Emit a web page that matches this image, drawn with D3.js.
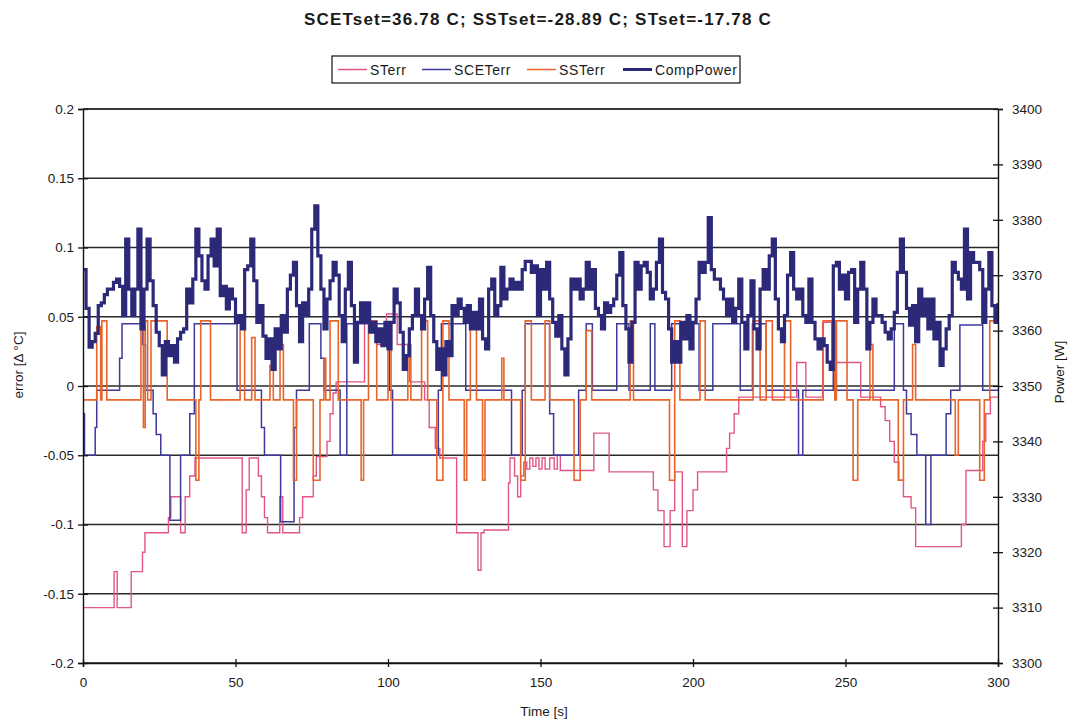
<!DOCTYPE html>
<html><head><meta charset="utf-8">
<script src="https://cdn.jsdelivr.net/npm/d3@7"></script>
<style>
body{margin:0;background:#fff}
svg{display:block}
text{font-family:Arial,"Liberation Sans",sans-serif;fill:#1a1a1a}
</style>
</head><body><svg id="c" width="1071" height="722"></svg>
<script>
// ---------------- data ----------------
const chartTitle = "SCETset=36.78 C; SSTset=-28.89 C; STset=-17.78 C";
const seriesNames = ["STerr", "SCETerr", "SSTerr", "CompPower"];
const xTicks = [0, 50, 100, 150, 200, 250, 300];
const errTicks = [-0.2, -0.15, -0.1, -0.05, 0, 0.05, 0.1, 0.15, 0.2];
const powTicks = [3300, 3310, 3320, 3330, 3340, 3350, 3360, 3370, 3380, 3390, 3400];

// STerr (step breakpoints)
const stT = [0,10.2,11.2,15.8,19.5,20.3,28,28.8,32,33.5,35,36.7,52.2,53.5,54.5,57.5,58.5,59.5,60.5,64.5,65.5,71,72,75.5,76.5,80,81,82,83,92.3,96.3,99.5,103,107,112,113.5,115.5,117,122.5,129.5,130.5,131.5,139.5,140,141.5,142.5,143.5,144.5,145.5,146.5,147.5,148.5,149.5,150.5,151.5,153,154.5,155.5,156.5,167.5,172.5,187,188.5,190.5,192.5,194,196.5,198,200,201.5,211,212,213.5,215,234,237,242.5,245.5,255,261.5,263,264.5,266,267.5,269,271.5,273,288,289.5,295,296,297.5,300];
const stV = [-0.16,-0.134,-0.16,-0.134,-0.12,-0.106,-0.095,-0.08,-0.106,-0.08,-0.065,-0.052,-0.106,-0.075,-0.052,-0.065,-0.08,-0.095,-0.106,-0.08,-0.106,-0.095,-0.08,-0.065,-0.051,-0.04,-0.02,-0.005,0.003,0.047,0.03,0.052,0.03,0.003,-0.01,-0.03,-0.045,-0.052,-0.106,-0.133,-0.106,-0.104,-0.07,-0.052,-0.065,-0.08,-0.065,-0.055,-0.06,-0.052,-0.058,-0.052,-0.06,-0.052,-0.06,-0.052,-0.06,-0.05,-0.061,-0.034,-0.062,-0.075,-0.09,-0.116,-0.09,-0.062,-0.116,-0.09,-0.075,-0.062,-0.045,-0.034,-0.02,-0.008,0.017,-0.008,0.046,0.017,-0.008,-0.015,-0.025,-0.04,-0.055,-0.068,-0.08,-0.088,-0.116,-0.1,-0.061,-0.04,-0.02,-0.008,-0.008];

// SCETerr (step breakpoints)
const sceT = [0,0.5,4,4.5,12,12.8,19.5,20.5,23,24,25.5,28.5,32,35,36.5,50.5,58.5,59.5,64.8,69.2,70,74.2,78,79,84.3,86.5,100.5,101.5,116.5,117.5,125.5,140.5,144,145,153,154.3,162.5,165,167,175,179,186,187.5,193,202,206.5,215.5,219.5,224,234.6,236,246,247,266,269,270,271.5,273.4,276.3,278,283,284.5,287.5,295,300];
const sceV = [-0.02,-0.05,-0.03,-0.003,0.02,0.045,0.03,-0.003,-0.02,-0.035,-0.05,-0.097,-0.05,-0.02,0.045,-0.003,-0.03,-0.05,-0.098,-0.03,-0.003,0.045,0.02,-0.003,-0.05,0.045,-0.003,-0.05,-0.003,0.045,-0.003,-0.05,-0.003,0.045,-0.02,-0.05,-0.003,0.045,-0.003,0.045,-0.003,0.045,-0.003,0.045,-0.003,0.045,-0.003,0.045,-0.003,-0.05,-0.003,0.045,-0.003,0.045,-0.003,-0.02,-0.035,-0.05,-0.1,-0.05,-0.02,-0.003,0.044,-0.003,-0.003];

// SSTerr (step breakpoints)
const sstT = [0,4.5,5.8,6.2,7.8,19,19.8,20.4,21.2,22.3,27.6,37,38,38.6,41.8,51.5,53,55.3,56.4,61.3,62.4,64.6,65.7,69,70,75.5,77.7,79,79.6,81,83.7,91.2,92,93.6,96.3,100,101,106.5,107.5,111,113,116,118,120,125,125.8,127,129,131,131.8,137.3,138,143.5,145,147,151.5,153,161,163,165,166.8,179.4,180.5,192.3,194,195.7,202.3,204,219.7,222,224,226,230,232,242.7,246.5,247,250.5,252.5,254,258,259,267.3,269,272,273,286,287,294,295.5,297.3,300];
const sstV = [-0.01,0.043,-0.01,0.047,-0.01,0.047,-0.03,0.047,-0.01,0.047,-0.01,-0.068,-0.01,0.047,-0.01,0.047,-0.01,0.035,-0.01,0.015,-0.01,0.03,-0.01,-0.068,-0.01,-0.068,-0.01,0.02,-0.01,0.047,-0.01,-0.068,-0.01,0.047,-0.01,0.03,-0.01,0.03,-0.01,0.047,-0.01,-0.068,0.047,-0.01,-0.068,-0.01,0.047,-0.01,-0.068,-0.01,0.02,-0.01,-0.068,0.047,-0.01,0.047,-0.01,-0.068,-0.01,0.04,-0.01,0.047,-0.01,-0.068,0.047,-0.01,0.047,-0.01,0.047,-0.01,0.047,-0.01,0.047,-0.01,0.047,-0.01,0.047,-0.01,-0.068,-0.01,0.03,-0.01,-0.068,-0.01,0.03,-0.01,-0.05,-0.01,-0.068,-0.01,0.047,0.047];

// CompPower, one value per second, t = 0..300
const compPower = [
3371,3364,3357,3358,3359.5,3364.5,3365,3366.5,3367.5,3367.5,
3368.7,3369.3,3368,3362.7,3376.5,3367.5,3362.7,3367.5,3378.3,3360.3,
3367.5,3376.5,3369,3364.5,3359.7,3357.3,3352,3358,3355.5,3357.3,
3354.3,3358.5,3359.7,3360.3,3367.5,3365,3369.3,3378.3,3373.5,3369,
3367.5,3373.5,3376.5,3371.7,3378.3,3366.3,3368,3363.9,3367.5,3365.7,
3361.5,3362.7,3360.3,3371,3371.7,3376.5,3369,3361.5,3364.5,3359,
3355,3358.5,3353,3360.3,3356.7,3362.7,3359.7,3367.5,3370,3372.3,
3364.5,3358,3365,3362.7,3367.5,3378.3,3382.5,3373.5,3367.5,3360.3,
3365.7,3369,3372.3,3370,3362.7,3358,3367.5,3372.3,3364.5,3354.3,
3361.5,3365,3361.5,3365,3359.7,3361.5,3358,3360.3,3357.3,3361.5,
3356.7,3361.5,3367.5,3365,3359.7,3353,3355.5,3360.3,3362.7,3367.5,
3362.7,3360.3,3365.7,3371.4,3362.7,3358,3353,3356.7,3352,3358,
3355.5,3364.5,3362.7,3365.7,3364,3361.5,3364.5,3360.3,3363.3,3360.3,
3365.7,3358.5,3356.7,3367.5,3369.3,3362.7,3364.5,3371.4,3365.7,3367.5,
3369.3,3367.5,3368.7,3367.5,3371,3372.5,3372.5,3370.5,3371.7,3362.7,
3371,3367.5,3372.3,3365.7,3361.5,3359,3362.7,3356.7,3352,3358.5,
3369.3,3367.5,3369.3,3365.7,3367.5,3372.3,3367.5,3371,3364,3362.7,
3360.3,3365,3363.3,3364.5,3365.7,3370,3374.1,3364.5,3360.3,3354.3,
3361.5,3372.3,3367.5,3371.7,3372.3,3370.5,3365.7,3367.5,3372.3,3376.5,
3366.9,3365.7,3360.3,3354.3,3358,3354.3,3361.5,3358.5,3362.7,3356.7,
3361.5,3365.7,3372.3,3370.5,3372.3,3380.4,3371,3369.3,3369.3,3367.5,
3365.7,3362.7,3365.7,3361.5,3364,3369.3,3361.5,3356.7,3362.7,3369,
3360.3,3356.7,3367.5,3371,3367.5,3373.5,3376.5,3365.7,3360.3,3358,
3362.7,3370,3374.1,3367.5,3365.7,3367.5,3362.7,3361.5,3369.3,3361.5,
3358.5,3356.7,3358.5,3357.3,3354.3,3353,3371.7,3372.3,3367.5,3370,
3365.7,3370.5,3371,3361.5,3367.5,3372.3,3367.5,3356.7,3361.5,3365.7,
3362.7,3362.7,3361.5,3359.7,3358.5,3360.3,3363.3,3370.5,3376.5,3370.5,
3364,3361,3364.5,3358,3367.5,3362.7,3365.7,3360.3,3365.7,3358.5,
3361.5,3353.7,3356.7,3360.3,3362.7,3372.3,3370.5,3369.3,3367.5,3378.3,
3365.7,3374.1,3372.3,3372.3,3371,3361.5,3367.5,3374.1,3364.5,3361.5,
3365];

// ---------------- drawing ----------------
const colors = {STerr:"#e2558a", SCETerr:"#3d3a9c", SSTerr:"#e8642a", CompPower:"#2c2979"};
const widths = {STerr:1.4, SCETerr:1.5, SSTerr:1.6, CompPower:3.2};

const L = 83, R = 998, T = 109, B = 663;
const svg = d3.select("#c");
const x = d3.scaleLinear().domain([0, 300]).range([L, R]);
const yL = d3.scaleLinear().domain([-0.2, 0.2]).range([B, T]);
const yR = d3.scaleLinear().domain([3300, 3400]).range([B, T]);

svg.append("defs").append("clipPath").attr("id","clip")
  .append("rect").attr("x",L).attr("y",T-2).attr("width",R-L).attr("height",B-T+4);

// gridlines
svg.append("g").selectAll("line").data(errTicks).join("line")
  .attr("x1",L).attr("x2",R)
  .attr("y1",d=>yL(d)).attr("y2",d=>yL(d))
  .attr("stroke","#2a2a2a").attr("stroke-width",1.4);

// series
const plot = svg.append("g").attr("clip-path","url(#clip)");
const stepLine = (ys) => d3.line().x(d=>x(d[0])).y(d=>ys(d[1])).curve(d3.curveStepAfter);
const zip = (ts, vs) => ts.map((t,i)=>[t, vs[i]]);
const drawS = (name, data, ys) => plot.append("path").datum(data)
  .attr("fill","none").attr("stroke",colors[name]).attr("stroke-width",widths[name])
  .attr("stroke-linejoin","miter").attr("d", stepLine(ys));

drawS("STerr", zip(stT, stV), yL);
drawS("SCETerr", zip(sceT, sceV), yL);
drawS("SSTerr", zip(sstT, sstV), yL);
drawS("CompPower", compPower.map((v,i)=>[i, v]), yR);

// axes
const fmtErr = d => String(+d.toFixed(2));
const gL = svg.append("g").attr("transform",`translate(${L},0)`)
  .call(d3.axisLeft(yL).tickValues(errTicks).tickFormat(fmtErr).tickSize(5).tickPadding(4));
gL.selectAll(".tick line").attr("x1",5);
const gR = svg.append("g").attr("transform",`translate(${R},0)`)
  .call(d3.axisRight(yR).tickValues(powTicks).tickFormat(d3.format("d")).tickSize(5).tickPadding(9));
gR.selectAll(".tick line").attr("x1",-5);
const gB = svg.append("g").attr("transform",`translate(0,${B})`)
  .call(d3.axisBottom(x).tickValues(xTicks).tickFormat(d3.format("d")).tickSize(4).tickPadding(10));
gB.selectAll(".tick line").attr("y1",-4);
[gL,gR,gB].forEach(g=>{
  g.selectAll(".domain").attr("stroke","#111").attr("stroke-width",1.4);
  g.selectAll(".tick line").attr("stroke","#111").attr("stroke-width",1.3);
  g.selectAll("text").attr("font-size",13.5).attr("fill","#1a1a1a")
    .attr("font-family","Arial, 'Liberation Sans', sans-serif");
});
// top border
svg.append("line").attr("x1",L).attr("x2",R).attr("y1",T).attr("y2",T)
  .attr("stroke","#2a2a2a").attr("stroke-width",1.4);

// title
svg.append("text").attr("x",538).attr("y",25).attr("text-anchor","middle")
  .attr("font-size",17).attr("letter-spacing",1.2).attr("font-weight","bold").text(chartTitle);

// axis titles
svg.append("text").attr("transform","translate(23,365) rotate(-90)")
  .attr("text-anchor","middle").attr("font-size",13.5).text("error [\u0394 \u00B0C]");
svg.append("text").attr("transform","translate(1064,372) rotate(-90)")
  .attr("text-anchor","middle").attr("font-size",13.5).text("Power [W]");
svg.append("text").attr("x",544).attr("y",716).attr("text-anchor","middle")
  .attr("font-size",13.5).text("Time [s]");

// legend
const lg = svg.append("g");
lg.append("rect").attr("x",332).attr("y",56).attr("width",408).attr("height",27)
  .attr("fill","#fff").attr("stroke","#111").attr("stroke-width",1.2);
const lgX = [338, 422, 527, 623];
seriesNames.forEach((n,i)=>{
  lg.append("line").attr("x1",lgX[i]).attr("x2",lgX[i]+29).attr("y1",69.5).attr("y2",69.5)
    .attr("stroke",colors[n]).attr("stroke-width",n==="CompPower"?3:1.5);
  lg.append("text").attr("x",lgX[i]+32).attr("y",74.5).attr("font-size",14)
    .attr("letter-spacing",0.6).text(n);
});
</script>
</body></html>
